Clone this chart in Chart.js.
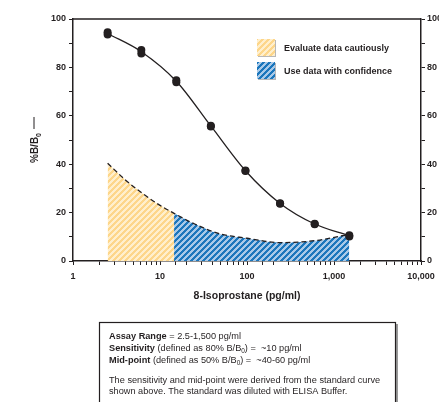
<!DOCTYPE html>
<html>
<head>
<meta charset="utf-8">
<script src="https://cdn.jsdelivr.net/npm/chart.js@4.4.0/dist/chart.umd.min.js"></script>
<style>
  body { margin: 0; background: #fff; }
  canvas { display: block; }
</style>
</head>
<body>
<canvas id="chart" width="439" height="402"></canvas>
<script>
// standard curve (pg/ml vs %B/B0), two replicates per standard
const concentrations = [2.5, 6.1, 15.4, 38.4, 96, 240, 600, 1500];
const replicateA = [94.5, 87.2, 74.7, 55.9, 37.4, 23.9, 15.4, 10.6];
const replicateB = [93.6, 85.7, 73.9, 55.6, 37.2, 23.7, 15.2, 10.1];
const fitCurve = [94.0, 86.5, 74.3, 55.8, 37.3, 23.8, 15.3, 10.4];

// dashed boundary under the curve
const boundaryX = [2.5, 4, 6, 10, 14.5, 25, 49, 100, 240, 600, 1500];
const boundaryY = [40.4, 33.5, 28.5, 23, 19.7, 15.3, 11.2, 9.4, 7.6, 8.4, 11];
const cautionLimit = 14.5;

const yTickLabels = [0, 20, 40, 60, 80, 100];
const xTickLabels = [1, 10, 100, 1000, 10000];
const legendLabels = ["Evaluate data cautiously", "Use data with confidence"];
const xTitle = "8-Isoprostane (pg/ml)";

const INK = "#231f20";
const FONT = "'Liberation Sans', Arial, sans-serif";

function stripes(dark, light, size) {
  const c = document.createElement("canvas");
  c.width = c.height = size;
  const g = c.getContext("2d");
  g.fillStyle = light;
  g.fillRect(0, 0, size, size);
  g.fillStyle = dark;
  for (let i = 0; i < size; i++) {
    for (let j = 0; j < size; j++) {
      if ((i + j) % size < size / 2) g.fillRect(i, j, 1, 1);
    }
  }
  return g.createPattern(c, "repeat");
}

const yellowFill = stripes("#fdd68a", "#ffefcc", 6);
const blueFill = stripes("#1b76bc", "#a8c9e8", 6);

const pts = (xs, ys) => xs.map((x, i) => ({ x: x, y: ys[i] }));
const boundary = pts(boundaryX, boundaryY);
const cautionPart = boundary.filter(p => p.x <= cautionLimit);
const confidencePart = boundary.filter(p => p.x >= cautionLimit);

// draw run of text pieces, pieces: [text, bold, sub]
function drawRuns(ctx, runs, x, y, size) {
  runs.forEach(([t, bold, sub]) => {
    const s = sub ? size * 0.7 : size;
    ctx.font = (bold ? "bold " : "") + s + "px " + FONT;
    ctx.fillText(t, x, sub ? y + 2 : y);
    x += ctx.measureText(t).width;
  });
}

const extras = {
  id: "extras",
  afterDraw(chart) {
    const ctx = chart.ctx;
    const a = chart.chartArea;
    ctx.save();
    ctx.strokeStyle = INK;
    ctx.fillStyle = INK;

    // top frame line
    ctx.lineWidth = 1.5;
    ctx.beginPath();
    ctx.moveTo(a.left, a.top);
    ctx.lineTo(a.right, a.top);
    ctx.stroke();

    // y title with subscript
    ctx.save();
    ctx.translate(38, 163);
    ctx.rotate(-Math.PI / 2);
    ctx.textBaseline = "alphabetic";
    ctx.font = "bold 10px " + FONT;
    ctx.fillText("%B/B", 0, 0);
    let w = ctx.measureText("%B/B").width;
    ctx.font = "bold 7px " + FONT;
    ctx.fillText("0", w, 3);
    w += ctx.measureText("0").width;
    ctx.lineWidth = 1;
    ctx.beginPath();
    ctx.moveTo(w + 4, -4);
    ctx.lineTo(w + 16, -4);
    ctx.stroke();
    ctx.restore();

    // legend
    [[yellowFill, 39], [blueFill, 62]].forEach(([pat, y], i) => {
      ctx.fillStyle = "#b8b8b8";
      ctx.fillRect(258, y + 1, 18, 17);
      ctx.fillStyle = pat;
      ctx.fillRect(257, y, 18, 17);
      ctx.fillStyle = INK;
      ctx.font = "bold 9px " + FONT;
      ctx.textBaseline = "middle";
      ctx.fillText(legendLabels[i], 284, y + 9.5);
    });

    // info box
    ctx.fillStyle = "#9a9a9a";
    ctx.fillRect(396, 324, 2, 90);
    ctx.lineWidth = 1.2;
    ctx.strokeStyle = INK;
    ctx.strokeRect(99.5, 322.5, 296, 100);
    ctx.fillStyle = INK;
    ctx.textBaseline = "alphabetic";
    const lx = 109, fs = 9.2;
    drawRuns(ctx, [["Assay Range", true], [" = 2.5-1,500 pg/ml"]], lx, 338.5, fs);
    drawRuns(ctx, [["Sensitivity", true], [" (defined as 80% B/B"], ["0", false, true], [") =  ~10 pg/ml"]], lx, 350.5, fs);
    drawRuns(ctx, [["Mid-point", true], [" (defined as 50% B/B"], ["0", false, true], [") =  ~40-60 pg/ml"]], lx, 362.5, fs);
    drawRuns(ctx, [["The sensitivity and mid-point were derived from the standard curve"]], lx, 382.5, fs);
    drawRuns(ctx, [["shown above. The standard was diluted with ELISA Buffer."]], lx, 394, fs);
    ctx.restore();
  }
};

const tickFont = { family: FONT, size: 9, weight: "bold" };
const axisGrid = {
  display: true,
  drawOnChartArea: false,
  drawTicks: true,
  tickLength: 4,
  color: INK,
  lineWidth: 1
};

new Chart(document.getElementById("chart"), {
  type: "scatter",
  data: {
    datasets: [
      {
        label: "replicate A",
        data: pts(concentrations, replicateA),
        pointRadius: 4,
        pointBackgroundColor: INK,
        pointBorderWidth: 0,
        showLine: false
      },
      {
        label: "replicate B",
        data: pts(concentrations, replicateB),
        pointRadius: 4,
        pointBackgroundColor: INK,
        pointBorderWidth: 0,
        showLine: false
      },
      {
        label: "fit",
        data: pts(concentrations, fitCurve),
        showLine: true,
        pointRadius: 0,
        borderColor: INK,
        borderWidth: 1.3,
        cubicInterpolationMode: "monotone"
      },
      {
        label: "boundary",
        data: boundary,
        showLine: true,
        pointRadius: 0,
        borderColor: INK,
        borderWidth: 1.3,
        borderDash: [5, 3],
        cubicInterpolationMode: "monotone"
      },
      {
        label: legendLabels[1],
        data: confidencePart,
        showLine: true,
        pointRadius: 0,
        borderWidth: 0,
        borderColor: "rgba(0,0,0,0)",
        backgroundColor: blueFill,
        fill: "origin",
        cubicInterpolationMode: "monotone"
      },
      {
        label: legendLabels[0],
        data: cautionPart,
        showLine: true,
        pointRadius: 0,
        borderWidth: 0,
        borderColor: "rgba(0,0,0,0)",
        backgroundColor: yellowFill,
        fill: "origin",
        cubicInterpolationMode: "monotone"
      }
    ]
  },
  options: {
    responsive: false,
    animation: false,
    layout: { padding: { top: 19, bottom: 100, left: 0, right: 0 } },
    plugins: {
      legend: { display: false },
      tooltip: { enabled: false }
    },
    scales: {
      x: {
        type: "logarithmic",
        position: "bottom",
        min: 1,
        max: 10000,
        afterFit: s => { s.height = 41; s.paddingLeft = 0; s.paddingRight = 0; },
        border: { display: true, color: INK, width: 1.5 },
        grid: axisGrid,
        ticks: {
          autoSkip: false,
          maxRotation: 0,
          padding: 6,
          color: INK,
          font: tickFont,
          callback: v => xTickLabels.some(t => Math.abs(t - v) / t < 1e-6) ? Number(v).toLocaleString("en-US") : ""
        },
        title: {
          display: true,
          text: xTitle,
          color: INK,
          font: { family: FONT, size: 10.5, weight: "bold" },
          padding: 0
        }
      },
      y: {
        position: "left",
        min: 0,
        max: 100,
        afterFit: s => { s.width = 73; s.paddingTop = 0; s.paddingBottom = 0; },
        border: { display: true, color: INK, width: 1.5 },
        grid: axisGrid,
        ticks: {
          stepSize: 10,
          padding: 3,
          color: INK,
          font: tickFont,
          callback: v => yTickLabels.includes(v) ? v : ""
        }
      },
      y2: {
        position: "right",
        min: 0,
        max: 100,
        afterFit: s => { s.width = 18; s.paddingTop = 0; s.paddingBottom = 0; },
        border: { display: true, color: INK, width: 1.5 },
        grid: axisGrid,
        ticks: {
          stepSize: 10,
          padding: 2,
          color: INK,
          font: tickFont,
          callback: v => yTickLabels.includes(v) ? v : ""
        }
      }
    }
  },
  plugins: [extras]
});
</script>
</body>
</html>
